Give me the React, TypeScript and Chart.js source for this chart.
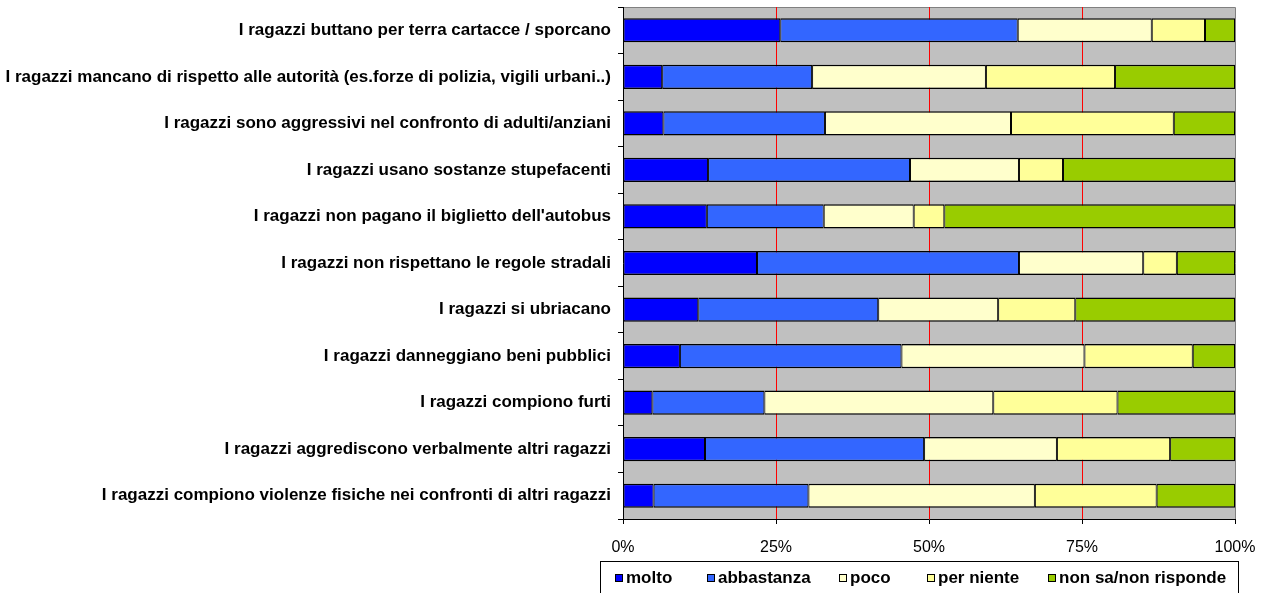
import React, { useEffect, useRef } from "react";
import { Chart, registerables } from "chart.js";

Chart.register(...registerables);

const categories = [
  "I ragazzi buttano per terra cartacce / sporcano",
  "I ragazzi mancano di rispetto alle autorità (es.forze di polizia, vigili urbani..)",
  "I ragazzi sono aggressivi nel confronto di adulti/anziani",
  "I ragazzi usano sostanze stupefacenti",
  "I ragazzi non pagano il biglietto dell'autobus",
  "I ragazzi non rispettano le regole stradali",
  "I ragazzi si ubriacano",
  "I ragazzi danneggiano beni pubblici",
  "I ragazzi compiono furti",
  "I ragazzi aggrediscono verbalmente altri ragazzi",
  "I ragazzi compiono violenze fisiche nei confronti di altri ragazzi",
];

const molto = [25.7, 6.4, 6.6, 13.9, 13.7, 21.9, 12.3, 9.3, 4.8, 13.4, 5.0];
const abbastanza = [38.8, 24.5, 26.4, 33.0, 19.1, 42.8, 29.4, 36.2, 18.3, 35.8, 25.3];
const poco = [21.9, 28.4, 30.4, 17.8, 14.7, 20.3, 19.6, 29.9, 37.4, 21.7, 37.0];
const perNiente = [8.7, 21.1, 26.6, 7.2, 5.0, 5.5, 12.6, 17.7, 20.3, 18.5, 19.9];
const nonSa = [4.9, 19.6, 10.0, 28.1, 47.5, 9.5, 26.1, 6.9, 19.2, 10.6, 12.8];

const seriesNames = ["molto", "abbastanza", "poco", "per niente", "non sa/non risponde"];
const seriesValues = [molto, abbastanza, poco, perNiente, nonSa];
const seriesColors = ["#0000FF", "#3366FF", "#FFFFCC", "#FFFF99", "#99CC00"];
const xTickStep = 25;
const redGridValues = [25, 50, 75];

const FONT = "'Liberation Sans', Arial, sans-serif";
const LEGEND_X = [615, 707, 839, 927, 1048];

const plotBackground = {
  id: "plotBackground",
  beforeDraw(chart: any) {
    const { ctx, chartArea } = chart;
    const { left, top, right, bottom } = chartArea;
    ctx.save();
    ctx.fillStyle = "#C0C0C0";
    ctx.fillRect(left, top, right - left, bottom - top);
    ctx.strokeStyle = "#808080";
    ctx.lineWidth = 1;
    ctx.beginPath();
    ctx.moveTo(left, top + 0.5);
    ctx.lineTo(right + 0.5, top + 0.5);
    ctx.lineTo(right + 0.5, bottom);
    ctx.stroke();
    ctx.restore();
  },
};

const boxLegend = {
  id: "boxLegend",
  afterDraw(chart: any) {
    const { ctx } = chart;
    ctx.save();
    ctx.strokeStyle = "#000";
    ctx.lineWidth = 1;
    ctx.strokeRect(600.5, 561.5, 638, 40);
    ctx.font = `bold 17px ${FONT}`;
    ctx.textBaseline = "middle";
    ctx.textAlign = "left";
    const cy = 578;
    chart.data.datasets.forEach((ds: any, i: number) => {
      const x = LEGEND_X[i];
      ctx.fillStyle = ds.backgroundColor;
      ctx.fillRect(x, cy - 4, 8, 8);
      ctx.strokeStyle = "#000";
      ctx.strokeRect(x + 0.5, cy - 3.5, 7, 7);
      ctx.fillStyle = "#000";
      ctx.fillText(ds.label, x + 11, cy);
    });
    ctx.restore();
  },
};

export default function App() {
  const canvasRef = useRef<HTMLCanvasElement | null>(null);

  useEffect(() => {
    const canvas = canvasRef.current;
    if (!canvas) return;
    const chart = new Chart(canvas, {
      type: "bar",
      data: {
        labels: categories,
        datasets: seriesNames.map((name, i) => ({
          label: name,
          data: seriesValues[i],
          backgroundColor: seriesColors[i],
          borderColor: "#000",
          borderWidth: { top: 1.5, bottom: 1.5, left: 1, right: 1 },
          borderSkipped: false,
          categoryPercentage: 1,
          barPercentage: 0.52,
        })),
      },
      options: {
        indexAxis: "y",
        animation: false,
        responsive: false,
        devicePixelRatio: 1,
        layout: { padding: { top: 7, right: 30, left: 0, bottom: 0 } },
        plugins: {
          legend: { display: false },
          tooltip: { enabled: false },
        },
        scales: {
          x: {
            type: "linear",
            stacked: true,
            min: 0,
            max: 100,
            afterFit(scale: any) {
              scale.height = 74;
              scale.paddingLeft = 0;
              scale.paddingRight = 0;
            },
            ticks: {
              stepSize: xTickStep,
              callback: (v: any) => `${v}%`,
              color: "#000",
              font: { family: FONT, size: 16 },
              padding: 14,
              maxRotation: 0,
            },
            grid: {
              color: (ctx: any) =>
                ctx.tick && redGridValues.includes(ctx.tick.value) ? "#FF0000" : "rgba(0,0,0,0)",
              tickColor: "#000",
              tickLength: 5,
              lineWidth: 1,
            },
            border: { color: "#000", width: 1 },
          },
          y: {
            type: "category",
            stacked: true,
            offset: true,
            afterFit(scale: any) {
              scale.width = 623;
              scale.paddingTop = 0;
              scale.paddingBottom = 0;
            },
            ticks: {
              color: "#000",
              font: { family: FONT, size: 17, weight: "bold" },
              padding: 7,
              autoSkip: false,
            },
            grid: {
              offset: true,
              drawOnChartArea: false,
              drawTicks: true,
              tickLength: 5,
              tickColor: "#000",
            },
            border: { color: "#000", width: 1 },
          },
        },
      },
      plugins: [plotBackground, boxLegend],
    } as any);
    return () => chart.destroy();
  }, []);

  return (
    <div style={{ position: "absolute", left: 0, top: 0, width: 1265, height: 593, background: "#fff" }}>
      <canvas ref={canvasRef} width={1265} height={593} style={{ width: 1265, height: 593, display: "block" }} />
    </div>
  );
}
